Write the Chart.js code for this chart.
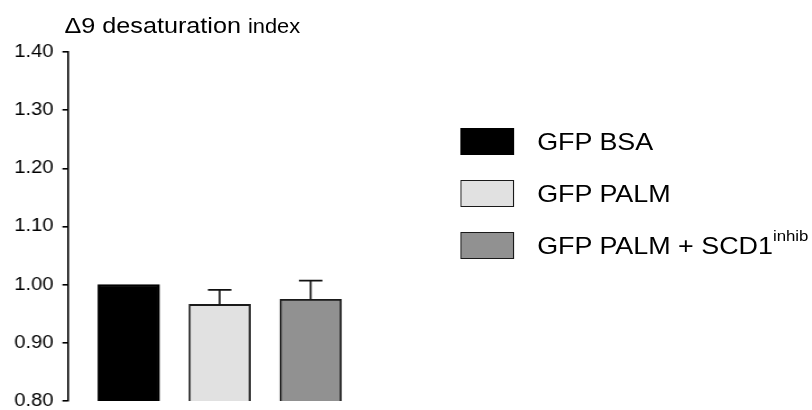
<!DOCTYPE html>
<html>
<head>
<meta charset="utf-8">
<title>Δ9 desaturation index</title>
<script src="https://cdn.jsdelivr.net/npm/chart.js@4.4.1/dist/chart.umd.min.js"></script>
<style>
  html, body { margin: 0; padding: 0; background: #fff; overflow: hidden; }
  body { width: 812px; height: 410px; font-family: 'Liberation Sans', Arial, sans-serif; color: #000; }
  /* the source figure is stretched sideways, so draw narrower and widen it */
  #wrap { position: absolute; left: 0; top: 0; width: 725px; height: 410px; transform: scaleX(1.12); transform-origin: 0 0; }
  #chart { position: absolute; left: 0; top: 0; }
  .title { position: absolute; left: 57.5px; top: 14.5px; font-size: 22.5px; line-height: 1; white-space: nowrap; }
  .title small { font-size: 19.5px; }
  .legend { position: absolute; left: 411px; top: 128px; }
  .legend .row { display: flex; align-items: center; height: 27.5px; margin-bottom: 24.5px; }
  .legend .box { width: 47.6px; height: 27.4px; box-sizing: border-box; border: 1.8px solid #1a1a1a; }
  .legend .txt { margin-left: 21px; font-size: 24px; line-height: 1; white-space: nowrap; }
  .legend sup { font-size: 15px; vertical-align: baseline; position: relative; top: -13px; }
</style>
</head>
<body>
<div id="wrap">
  <canvas id="chart" width="725" height="410"></canvas>
  <div class="title">Δ9 desaturation <small>index</small></div>
  <div class="legend" id="legend"></div>
</div>

<script>
// Data
const categories = ['GFP BSA', 'GFP PALM', 'GFP PALM + SCD1'];
const labelSup = ['', '', 'inhib'];
const values = [1.00, 0.966, 0.975];
const errors = [0, 0.025, 0.032];
const yTicks = [0.80, 0.90, 1.00, 1.10, 1.20, 1.30, 1.40];

const barColors = ['#000000', '#e1e1e1', '#919191'];
const edgeColors = ['#000000', '#1a1a1a', '#1a1a1a'];

Chart.defaults.font.family = "'Liberation Sans', Arial, sans-serif";
Chart.defaults.color = '#000';

// -- Legend (HTML, for the superscript) --
const legendEl = document.getElementById('legend');
categories.forEach((name, i) => {
    const row = document.createElement('div');
    row.className = 'row';
    const box = document.createElement('div');
    box.className = 'box';
    box.style.background = barColors[i];
    box.style.borderColor = edgeColors[i];
    const txt = document.createElement('div');
    txt.className = 'txt';
    txt.textContent = name;
    if (labelSup[i]) {
        const sup = document.createElement('sup');
        sup.textContent = labelSup[i];
        txt.appendChild(sup);
    }
    row.appendChild(box);
    row.appendChild(txt);
    legendEl.appendChild(row);
});

// Error bars: stem from bar top up to value + error, with a cap
const errorBars = {
    id: 'errorBars',
    afterDatasetsDraw(chart) {
        const meta = chart.getDatasetMeta(0);
        const y = chart.scales.y;
        const ctx = chart.ctx;
        const capW = 21;
        ctx.save();
        ctx.strokeStyle = '#111';
        ctx.lineWidth = 1.7;
        meta.data.forEach((bar, i) => {
            if (!errors[i]) return;
            const yTop = y.getPixelForValue(values[i]);
            const yCap = y.getPixelForValue(values[i] + errors[i]);
            ctx.beginPath();
            ctx.moveTo(bar.x, yTop);
            ctx.lineTo(bar.x, yCap);
            ctx.moveTo(bar.x - capW / 2, yCap);
            ctx.lineTo(bar.x + capW / 2, yCap);
            ctx.stroke();
        });
        ctx.restore();
    }
};

new Chart(document.getElementById('chart'), {
    type: 'bar',
    data: {
        datasets: [{
            data: values.map((v, i) => ({ x: i, y: v })),
            backgroundColor: barColors,
            borderColor: edgeColors,
            borderWidth: 1.8,
            borderSkipped: false,
            barThickness: 55
        }]
    },
    options: {
        responsive: false,
        animation: false,
        devicePixelRatio: 1,
        layout: { padding: { left: 0, top: 52, right: 397.5, bottom: 9 } },
        plugins: {
            legend: { display: false },
            tooltip: { enabled: false }
        },
        scales: {
            x: {
                type: 'linear',
                display: false,
                min: -0.667,
                max: 2.617,
                offset: false
            },
            y: {
                min: 0.8,
                max: 1.4,
                afterBuildTicks: (scale) => { scale.ticks = yTicks.map(v => ({ value: v })); },
                afterFit: (scale) => { scale.width = 60.7; },
                border: { display: true, color: '#000', width: 1.6 },
                grid: { display: true, drawOnChartArea: false, drawTicks: true, tickLength: 5, color: '#000', lineWidth: 1.6 },
                ticks: {
                    padding: 8,
                    color: '#000',
                    // tiny line height so the labels don't push the plot area in
                    font: { size: 18, lineHeight: 0.01 },
                    callback: (v) => Number(v).toFixed(2)
                }
            }
        }
    },
    plugins: [errorBars]
});
</script>
</body>
</html>
